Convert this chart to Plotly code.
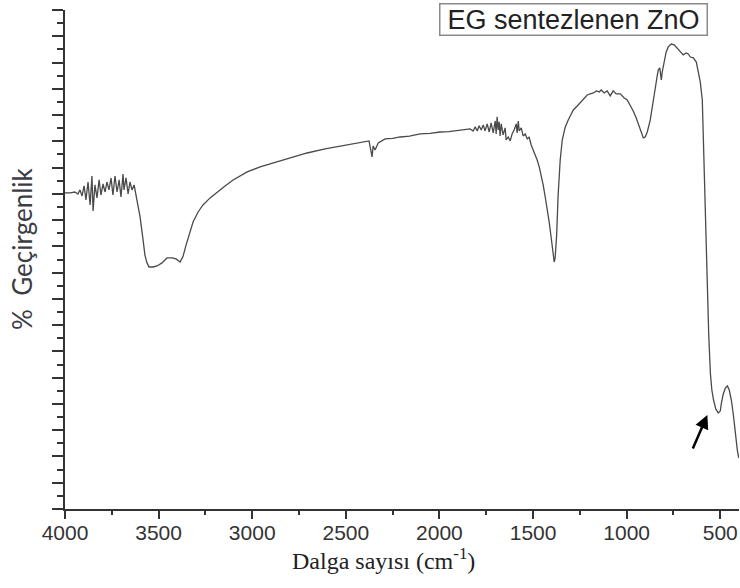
import plotly.graph_objects as go

# Wavenumber (cm-1) and transmittance (arbitrary % units)
wavenumber = [
    4000, 3973, 3947, 3931, 3920, 3909, 3898, 3888, 3877, 3866, 3856, 3850, 3840, 3829,
    3818, 3808, 3797, 3786, 3776, 3765, 3754, 3744, 3733, 3722, 3711, 3701, 3690, 3685,
    3674, 3663, 3653, 3642, 3631, 3621, 3610, 3599,
    3583, 3573, 3562, 3551, 3530, 3508, 3482, 3455, 3428, 3407, 3385, 3369, 3353, 3337,
    3316, 3289, 3263, 3225, 3188, 3145, 3102, 3027, 2958,
    2889, 2798, 2707, 2611, 2530, 2450, 2381, 2376, 2365, 2360, 2354, 2344, 2327, 2290,
    2250, 2210, 2160, 2103, 2050, 1996, 1950, 1916, 1863,
    1836, 1820, 1809, 1798, 1788, 1777, 1766, 1756, 1745, 1734, 1724, 1713, 1702, 1697,
    1692, 1686, 1681, 1676, 1670, 1660, 1649, 1644, 1633, 1622, 1612, 1601, 1590, 1585,
    1579, 1574, 1563, 1553, 1542, 1531, 1521, 1510, 1499, 1489, 1478, 1467, 1456, 1446,
    1435, 1424, 1414, 1403, 1392, 1387, 1382, 1374, 1366, 1355, 1344, 1328, 1312, 1285,
    1264, 1248, 1227, 1211, 1195, 1178, 1162, 1147, 1136, 1120, 1104, 1088, 1072, 1056,
    1034, 1013, 997, 981, 965, 949, 933, 922, 911, 901, 890, 874, 858, 847, 837, 831,
    823, 815, 810, 799, 789, 778, 762, 746, 730, 714, 698, 682, 671, 660, 644, 628, 618,
    607, 596, 589, 580, 571, 562, 553, 545, 536, 524, 511, 500, 494, 484, 473, 462, 452,
    441, 430, 420, 409, 401,
]
transmittance = [
    24.07, 24.07, 24.14, 23.99, 24.30, 23.84, 24.60, 23.53, 24.90, 23.15, 25.36, 22.70, 24.68, 23.69,
    25.06, 23.91, 24.75, 24.14, 24.90, 24.30, 25.21, 23.91, 25.36, 24.14, 25.06, 23.76, 25.51, 24.30,
    25.21, 23.99, 24.90, 24.30, 24.68, 23.91, 22.92, 22.24,
    20.49, 19.34, 18.74, 18.43, 18.43, 18.51, 18.74, 19.12, 19.12, 19.04, 18.81, 19.27, 20.11, 20.94,
    21.86, 22.62, 23.15, 23.69, 24.14, 24.60, 25.06, 25.67, 26.05,
    26.35, 26.73, 27.11, 27.42, 27.65, 27.87, 28.03, 28.03, 27.19, 26.81, 27.65, 27.34, 27.87, 28.18,
    28.22, 28.33, 28.40, 28.56, 28.60, 28.71, 28.74, 28.79, 28.86,
    28.94, 28.79, 29.10, 28.79, 29.18, 28.86, 29.25, 28.79, 29.33, 28.71, 29.40, 28.64, 29.55, 28.56,
    29.86, 28.86, 29.48, 28.41, 29.33, 28.49, 29.02, 28.10, 28.33, 28.03, 28.56, 28.86, 29.33, 28.64,
    29.55, 28.79, 29.02, 28.41, 28.56, 28.18, 28.33, 27.72, 27.34, 26.96, 26.58, 26.05, 25.44, 24.68,
    23.76, 22.92, 21.86, 20.64, 19.34, 18.81, 19.12, 20.87, 23.91, 26.58, 28.10, 29.10, 29.63, 30.39,
    30.69, 30.92, 31.30, 31.53, 31.61, 31.68, 31.84, 31.76, 31.91, 31.68, 31.84, 31.46, 31.84, 31.61,
    31.61, 31.30, 31.15, 30.77, 30.31, 29.78, 29.10, 28.56, 28.26, 28.33, 28.71, 29.63, 30.92, 32.06, 32.98, 33.43,
    33.59, 32.67, 33.28, 34.20, 34.81, 35.19, 35.41, 35.34, 35.11, 34.88, 34.58, 34.73, 34.65, 34.42, 34.35, 34.04, 33.43,
    32.52, 31.15, 27.34, 23.53, 18.43, 13.40, 10.36, 9.06, 8.30, 7.62, 7.31, 7.46, 8.07, 8.76, 9.21, 9.37, 9.06,
    8.30, 7.16, 5.79, 4.49, 3.88,
]

x_ticks = [4000, 3500, 3000, 2500, 2000, 1500, 1000, 500]
x_tick_text = [str(v) for v in x_ticks]
legend_text = "EG sentezlenen ZnO"
x_title = "Dalga sayısı (cm<sup>-1</sup>)"
y_title = "%  Geçirgenlik"

fig = go.Figure()
fig.add_trace(go.Scatter(
    x=wavenumber, y=transmittance, mode="lines",
    line=dict(color="#4a4a4a", width=1.3),
    showlegend=False, hoverinfo="skip",
))

axis_col = "#333333"
fig.update_layout(
    width=740, height=588,
    margin=dict(l=65, r=1, t=10, b=79, autoexpand=False),
    paper_bgcolor="white", plot_bgcolor="white",
    font=dict(family="Liberation Sans, Arial, sans-serif", color="#333333"),
    xaxis=dict(
        range=[4000, 400], tickvals=x_ticks, ticktext=x_tick_text,
        automargin=False,
        showgrid=False, zeroline=False,
        showline=True, linecolor=axis_col, linewidth=2,
        ticks="outside", ticklen=8, tickwidth=2, tickcolor=axis_col,
        ticklabelstandoff=-4,
        tickfont=dict(size=21, color="#333333", family="Liberation Sans, Arial, sans-serif"),
        minor=dict(dtick=250, tick0=0, ticks="outside", ticklen=4, tickwidth=2, tickcolor=axis_col),
    ),
    yaxis=dict(
        range=[0, 38], tick0=0, dtick=2, automargin=False,
        showticklabels=False, showgrid=False, zeroline=False,
        showline=True, linecolor=axis_col, linewidth=2,
        ticks="outside", ticklen=11, tickwidth=2, tickcolor=axis_col,
        minor=dict(dtick=1, tick0=0, ticks="outside", ticklen=6, tickwidth=2, tickcolor=axis_col),
    ),
    annotations=[
        dict(text=legend_text, xref="paper", yref="paper", x=0.754, y=0.98,
             xanchor="center", yanchor="middle", showarrow=False,
             font=dict(size=27, color="#222222", family="Liberation Sans, Arial, sans-serif"),
             bordercolor="#8a8a8a", borderwidth=1.5, borderpad=0, bgcolor="white",
             width=266, height=30),
        dict(text=x_title, xref="paper", yref="paper", x=0.472, y=-0.10,
             xanchor="center", yanchor="middle", showarrow=False,
             font=dict(size=24, color="#222222", family="Liberation Serif, Times New Roman, serif")),
        dict(text=y_title, xref="paper", yref="paper", x=-0.064, y=0.521,
             xanchor="center", yanchor="middle", showarrow=False, textangle=-90,
             font=dict(size=26, color="#3c3c44", family="Lato, Noto Sans, sans-serif")),
        dict(x=569, y=7.16, ax=650, ay=4.49, xref="x", yref="y", axref="x", ayref="y",
             text="", showarrow=True, arrowhead=2, arrowsize=1.1, arrowwidth=2.5,
             arrowcolor="black"),
    ],
)

fig.write_html(
    "out.html",
    config={"displayModeBar": False},
    post_script="document.body.style.margin='0';document.body.style.overflow='hidden';",
)
